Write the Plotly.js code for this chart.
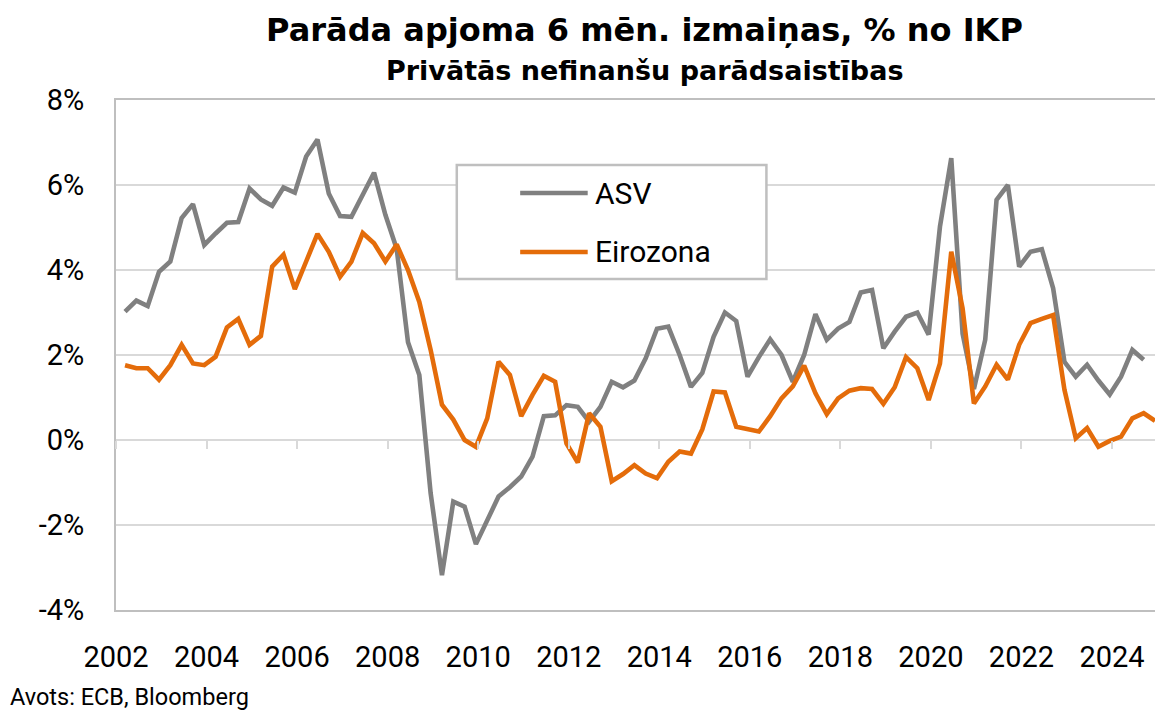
<!DOCTYPE html>
<html>
<head>
<meta charset="utf-8">
<script src="https://cdn.plot.ly/plotly-3.0.1.min.js"></script>
<style>
  html, body { margin: 0; padding: 0; background: #ffffff; }
  #chart { width: 1155px; height: 711px; }
</style>
</head>
<body>
<div id="chart"></div>
<script>
// Quarterly observations, 2002Q1 onwards
const startYear = 2002;
const asvValues = [
  3.02, 3.28, 3.15, 3.96, 4.20, 5.22, 5.55, 4.59, 4.86, 5.11,
  5.13, 5.92, 5.66, 5.51, 5.94, 5.82, 6.67, 7.07, 5.80, 5.27,
  5.25, 5.80, 6.29, 5.30, 4.50, 2.30, 1.53, -1.25, -3.18, -1.45,
  -1.57, -2.45, -1.92, -1.33, -1.11, -0.86, -0.39, 0.56, 0.58, 0.82,
  0.78, 0.43, 0.78, 1.37, 1.24, 1.40, 1.92, 2.62, 2.67, 2.00,
  1.25, 1.58, 2.43, 3.00, 2.80, 1.49, 1.95, 2.37, 2.00, 1.37,
  2.00, 2.96, 2.36, 2.62, 2.78, 3.47, 3.53, 2.16, 2.55, 2.90,
  3.00, 2.48, 5.02, 6.63, 2.50, 1.20, 2.36, 5.65, 6.00, 4.08,
  4.43, 4.49, 3.57, 1.84, 1.49, 1.77, 1.40, 1.07, 1.49, 2.12,
  1.89
];
const eurozoneValues = [
  1.76, 1.69, 1.69, 1.42, 1.76, 2.24, 1.80, 1.76, 1.96, 2.65,
  2.85, 2.24, 2.45, 4.08, 4.36, 3.55, 4.20, 4.85, 4.43, 3.84,
  4.20, 4.87, 4.63, 4.20, 4.60, 4.00, 3.25, 2.12, 0.83, 0.48,
  0.00, -0.16, 0.51, 1.84, 1.53, 0.56, 1.06, 1.51, 1.37, -0.08,
  -0.53, 0.63, 0.31, -0.97, -0.80, -0.59, -0.79, -0.90, -0.51, -0.27,
  -0.32, 0.25, 1.14, 1.12, 0.31, 0.26, 0.20, 0.56, 0.98, 1.26,
  1.75, 1.10, 0.61, 0.98, 1.16, 1.22, 1.20, 0.85, 1.24, 1.95,
  1.69, 0.94, 1.80, 4.43, 3.10, 0.86, 1.26, 1.77, 1.42, 2.24,
  2.75, 2.85, 2.94, 1.18, 0.04, 0.28, -0.16, -0.02, 0.08, 0.51,
  0.63, 0.45
];
const seriesNames = ["ASV", "Eirozona"];
const yearTicks = [2002, 2004, 2006, 2008, 2010, 2012, 2014, 2016, 2018, 2020, 2022, 2024];
const yearTickLabels = ["2002", "2004", "2006", "2008", "2010", "2012", "2014", "2016", "2018", "2020", "2022", "2024"];
const yTicks = [-4, -2, 0, 2, 4, 6, 8];
const yTickLabels = ["-4%", "-2%", "0%", "2%", "4%", "6%", "8%"];
const titleText = "Parāda apjoma 6 mēn. izmaiņas, % no IKP";
const subtitleText = "Privātās nefinanšu parādsaistības";
const sourceText = "Avots: ECB, Bloomberg";

// quarter labels and their positions on a year scale
function quarterLabels(n) {
  const out = [];
  for (let i = 0; i < n; i++) {
    out.push((startYear + Math.floor(i / 4)) + "Q" + (i % 4 + 1));
  }
  return out;
}
function quarterPos(label) {
  const y = parseInt(label.slice(0, 4), 10);
  const q = parseInt(label.slice(5), 10);
  return y + q * 0.25 - 0.05;
}
const asvQuarters = quarterLabels(asvValues.length);
const ezQuarters = quarterLabels(eurozoneValues.length);

const GREY = "#808080";
const ORANGE = "#E46C0A";
const FONT = "Roboto, 'Liberation Sans', Arial, sans-serif";
const TITLE_FONT = "'DejaVu Sans', Roboto, Arial, sans-serif";
const LW = 4.6;

const traces = [
  {
    type: "scatter", mode: "lines", name: seriesNames[0],
    x: asvQuarters.map(quarterPos), y: asvValues, text: asvQuarters,
    line: { color: GREY, width: LW }, showlegend: false,
    hovertemplate: "%{text}: %{y:.2f}%<extra>ASV</extra>"
  },
  {
    type: "scatter", mode: "lines", name: seriesNames[1],
    x: ezQuarters.map(quarterPos), y: eurozoneValues, text: ezQuarters,
    line: { color: ORANGE, width: LW }, showlegend: false,
    hovertemplate: "%{text}: %{y:.2f}%<extra>Eirozona</extra>"
  },
  {
    type: "scatter", mode: "lines", x: [], y: [], xaxis: "x2", yaxis: "y",
    showlegend: false, hoverinfo: "skip"
  }
];

// legend box placement (paper coordinates)
const lg = { x0: 0.328, x1: 0.626, y0: 0.649, y1: 0.8725, lx0: 0.389, lx1: 0.454, tx: 0.459, rows: [0.8176, 0.702] };

const layout = {
  width: 1155, height: 711,
  margin: { l: 116, r: 0, t: 100, b: 101 },
  paper_bgcolor: "#ffffff", plot_bgcolor: "#ffffff",
  font: { family: FONT, color: "#000000", size: 29 },
  title: {
    text: "<b>" + titleText + "</b>",
    font: { family: TITLE_FONT, size: 32, color: "#000000" },
    x: 0.558, xref: "container", xanchor: "center",
    y: 0.958, yref: "container", yanchor: "middle"
  },
  xaxis: {
    range: [2002, 2024.95],
    tickmode: "array", tickvals: yearTicks, ticktext: yearTickLabels,
    showgrid: false, zeroline: false,
    showline: true, mirror: true, linecolor: "#BFBFBF", linewidth: 2,
    ticks: "", ticklabelstandoff: 20,
    tickfont: { family: FONT, size: 29, color: "#000000" },
    fixedrange: true
  },
  xaxis2: {
    overlaying: "x", matches: "x", anchor: "free", position: 1 / 3, side: "bottom",
    tickmode: "array", tickvals: yearTicks,
    ticks: "outside", ticklen: 8, tickwidth: 2, tickcolor: "#D9D9D9",
    showticklabels: false, showline: false, showgrid: false, zeroline: false,
    fixedrange: true
  },
  yaxis: {
    range: [-4, 8],
    tickmode: "array", tickvals: yTicks, ticktext: yTickLabels,
    showgrid: true, gridcolor: "#D9D9D9", gridwidth: 2,
    zeroline: false,
    showline: true, linecolor: "#BFBFBF", linewidth: 2,
    ticks: "", ticklabelstandoff: 24,
    tickfont: { family: FONT, size: 29, color: "#000000" },
    fixedrange: true
  },
  shapes: [
    { type: "rect", xref: "paper", yref: "paper", x0: lg.x0, x1: lg.x1, y0: lg.y0, y1: lg.y1,
      line: { color: "#BFBFBF", width: 2.5 }, fillcolor: "#ffffff", layer: "above" },
    { type: "line", xref: "paper", yref: "paper", x0: lg.lx0, x1: lg.lx1, y0: lg.rows[0], y1: lg.rows[0],
      line: { color: GREY, width: LW }, layer: "above" },
    { type: "line", xref: "paper", yref: "paper", x0: lg.lx0, x1: lg.lx1, y0: lg.rows[1], y1: lg.rows[1],
      line: { color: ORANGE, width: LW }, layer: "above" }
  ],
  annotations: [
    { xref: "paper", yref: "paper", x: lg.tx, y: lg.rows[0], xanchor: "left", yanchor: "middle",
      text: seriesNames[0], showarrow: false, font: { family: FONT, size: 30, color: "#000000" } },
    { xref: "paper", yref: "paper", x: lg.tx, y: lg.rows[1], xanchor: "left", yanchor: "middle",
      text: seriesNames[1], showarrow: false, font: { family: FONT, size: 30, color: "#000000" } },
    { xref: "paper", yref: "paper", x: 0.509, y: 1.058, xanchor: "center", yanchor: "middle",
      text: "<b>" + subtitleText + "</b>", showarrow: false,
      font: { family: TITLE_FONT, size: 27, color: "#000000" } },
    { xref: "paper", yref: "paper", x: -0.104, y: -0.1706, xanchor: "left", yanchor: "middle",
      text: sourceText, showarrow: false,
      font: { family: FONT, size: 23.5, color: "#000000" } }
  ],
  showlegend: false
};

Plotly.newPlot("chart", traces, layout, { displayModeBar: false, responsive: false });
</script>
</body>
</html>
